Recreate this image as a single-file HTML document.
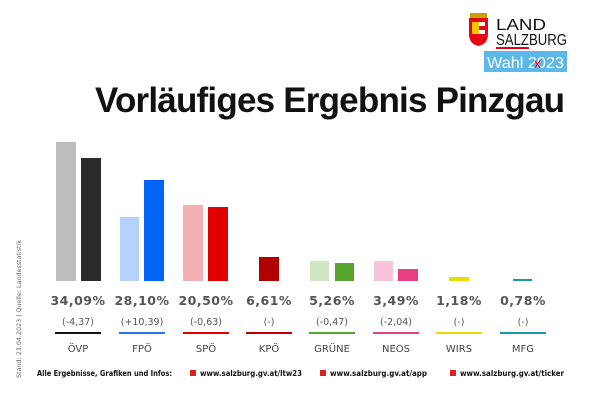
<!DOCTYPE html>
<html><head><meta charset="utf-8"><style>
html,body{margin:0;padding:0;background:#fff;}
svg{display:block;}
</style></head><body>
<svg width="600" height="400" viewBox="0 0 600 400" xmlns="http://www.w3.org/2000/svg" font-family="DejaVu Sans, Liberation Sans, sans-serif">
<rect width="600" height="400" fill="#fff"/>
<path d="M469 18 h19 v16 q0 10 -9.5 12 q-9.5 -2 -9.5 -12z" fill="#e30613"/>
<rect x="472" y="22" width="7" height="12" fill="#f6c700"/>
<rect x="479" y="22" width="6" height="4" fill="#fff"/><rect x="479" y="30" width="6" height="4" fill="#fff"/>
<rect x="470" y="13" width="17" height="5" fill="#c8a000"/>
<text x="496" y="30" style="font-family:'Liberation Sans',sans-serif" font-size="16" fill="#111" textLength="50" lengthAdjust="spacingAndGlyphs">LAND</text>
<text x="496" y="45" style="font-family:'Liberation Sans',sans-serif" font-size="16" fill="#111" textLength="71" lengthAdjust="spacingAndGlyphs">SALZBURG</text>
<rect x="496" y="47" width="33" height="2" fill="#e30613"/>
<rect x="484" y="51" width="83" height="21" fill="#5cb8e8"/>
<text x="487" y="68" style="font-family:'Liberation Sans',sans-serif" font-size="16" fill="#fff" textLength="77" lengthAdjust="spacingAndGlyphs">Wahl 2023</text>
<text x="534" y="68" style="font-family:'Liberation Sans',sans-serif" font-size="14" fill="#e30613">x</text>
<text x="95" y="112" style="font-family:'Liberation Sans',sans-serif" font-size="35" font-weight="bold" fill="#111" textLength="470" lengthAdjust="spacing">Vorläufiges Ergebnis Pinzgau</text>
<rect x="56" y="142" width="20" height="139" fill="#bdbdbd"/>
<rect x="81" y="158" width="20" height="123" fill="#2b2b2b"/>
<rect x="120" y="217" width="19" height="64" fill="#b3d1fb"/>
<rect x="144" y="180" width="20" height="101" fill="#0064f5"/>
<rect x="183" y="205" width="20" height="76" fill="#f4b1b3"/>
<rect x="208" y="207" width="20" height="74" fill="#e00000"/>
<rect x="259" y="257" width="20" height="24" fill="#b20000"/>
<rect x="310" y="261" width="19" height="20" fill="#cfe5c3"/>
<rect x="335" y="263" width="19" height="18" fill="#54a42e"/>
<rect x="374" y="261" width="19" height="20" fill="#f7c4da"/>
<rect x="398" y="269" width="20" height="12" fill="#e83e82"/>
<rect x="449" y="277" width="20" height="4" fill="#e8dc00"/>
<rect x="513" y="279" width="19" height="2" fill="#1798ac"/>
<g font-weight="bold" font-size="12.5" fill="#555" text-anchor="middle" letter-spacing="0.5">
<text x="78" y="305">34,09%</text><text x="142" y="305">28,10%</text><text x="206" y="305">20,50%</text><text x="269" y="305">6,61%</text>
<text x="332" y="305">5,26%</text><text x="396" y="305">3,49%</text><text x="459" y="305">1,18%</text><text x="523" y="305">0,78%</text>
</g>
<g font-size="9.5" fill="#555" text-anchor="middle">
<text x="78" y="325">(-4,37)</text><text x="142" y="325">(+10,39)</text><text x="206" y="325">(-0,63)</text><text x="269" y="325">(-)</text>
<text x="332" y="325">(-0,47)</text><text x="396" y="325">(-2,04)</text><text x="459" y="325">(-)</text><text x="523" y="325">(-)</text>
</g>
<g>
<rect x="55" y="332" width="46" height="2" fill="#111"/>
<rect x="119" y="332" width="46" height="2" fill="#2a6ff0"/>
<rect x="183" y="332" width="46" height="2" fill="#e00000"/>
<rect x="246" y="332" width="46" height="2" fill="#c00000"/>
<rect x="309" y="332" width="46" height="2" fill="#54a42e"/>
<rect x="373" y="332" width="46" height="2" fill="#e83e82"/>
<rect x="436" y="332" width="46" height="2" fill="#e8dc00"/>
<rect x="500" y="332" width="46" height="2" fill="#1798ac"/>
</g>
<g font-size="10" fill="#444" text-anchor="middle">
<text x="78" y="352">ÖVP</text><text x="142" y="352">FPÖ</text><text x="206" y="352">SPÖ</text><text x="269" y="352">KPÖ</text>
<text x="332" y="352">GRÜNE</text><text x="396" y="352">NEOS</text><text x="459" y="352">WIRS</text><text x="523" y="352">MFG</text>
</g>
<g font-size="7.5" font-weight="bold" fill="#111">
<text x="37" y="376" textLength="135" lengthAdjust="spacingAndGlyphs">Alle Ergebnisse, Grafiken und Infos:</text>
<rect x="190" y="370" width="6" height="6" fill="#e02020"/>
<text x="200" y="376" textLength="102" lengthAdjust="spacingAndGlyphs">www.salzburg.gv.at/ltw23</text>
<rect x="320" y="370" width="6" height="6" fill="#e02020"/>
<text x="330" y="376" textLength="97" lengthAdjust="spacingAndGlyphs">www.salzburg.gv.at/app</text>
<rect x="450" y="370" width="6" height="6" fill="#e02020"/>
<text x="460" y="376" textLength="104" lengthAdjust="spacingAndGlyphs">www.salzburg.gv.at/ticker</text>
</g>
<text transform="translate(21,378) rotate(-90)" font-size="6" fill="#666" textLength="138" lengthAdjust="spacingAndGlyphs">Stand: 23.04.2023 | Quelle: Landesstatistik</text>
</svg>
</body></html>
